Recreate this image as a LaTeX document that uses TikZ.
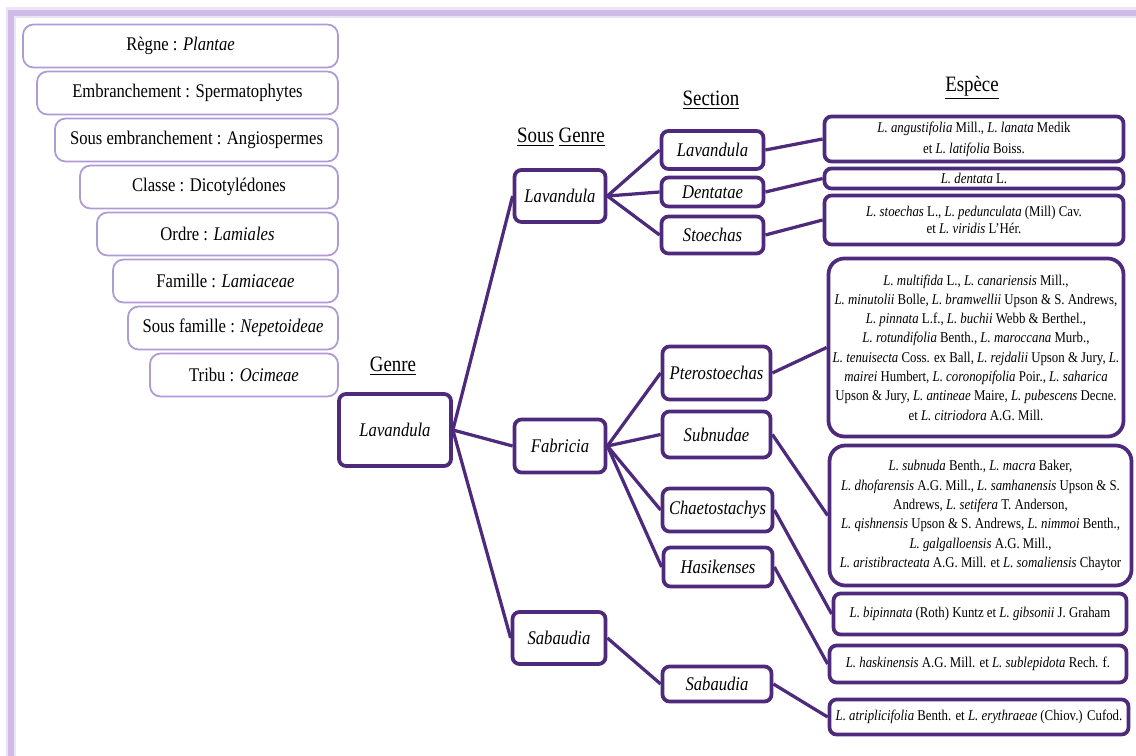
\documentclass[tikz,border=0pt]{standalone}
\usepackage{fontspec}
\setmainfont{Liberation Serif}[FakeStretch=0.86]
\definecolor{purp}{RGB}{78,42,124}
\definecolor{taxc}{RGB}{176,154,214}
\definecolor{framec}{RGB}{206,188,230}
\definecolor{glowc}{RGB}{236,228,246}
\tikzset{
 wh/.style 2 args={minimum width=#1*0.02cm, minimum height=#2*0.02cm},
 tax/.style={draw=taxc, line width=1pt, rounded corners=6pt, fill=white, inner sep=0pt, font=\fontsize{11}{13}\selectfont},
 mbox/.style={draw=purp, line width=0.075cm, rounded corners=4pt, fill=white, inner sep=0pt, align=center, font=\fontsize{11}{13}\selectfont\itshape},
 sbox/.style={draw=purp, line width=0.075cm, rounded corners=4pt, fill=white, inner sep=0pt, align=center, font=\fontsize{8.5}{11}\selectfont},
 conn/.style={draw=purp, line width=0.065cm},
 hdr/.style={font=\fontsize{12.5}{14}\selectfont, inner sep=0pt},
}
\begin{document}
\begin{tikzpicture}[x=0.02cm,y=-0.02cm]
\useasboundingbox (0,0) rectangle (1136,756);
% frame
\draw[line width=0.22cm, glowc] (11,760) -- (11,13) -- (1140,13);
\draw[line width=0.12cm, framec] (11,760) -- (11,13.5) -- (1140,13.5);
% taxonomy
\node[tax, wh={315}{43}] (t1) at (180.5,46) {Règne : \textit{Plantae}};
\node[tax, wh={301}{43}] (t2) at (187.5,93) {Embranchement : Spermatophytes};
\node[tax, wh={283}{43}] (t3) at (196.5,140) {Sous embranchement : Angiospermes};
\node[tax, wh={258}{43}] (t4) at (209,187) {Classe : Dicotylédones};
\node[tax, wh={241}{43}] (t5) at (217.5,234) {Ordre : \textit{Lamiales}};
\node[tax, wh={225}{43}] (t6) at (225.5,281) {Famille : \textit{Lamiaceae}};
\node[tax, wh={210}{43}] (t7) at (233,328) {Sous famille : \textit{Nepetoideae}};
\node[tax, wh={188}{43}] (t8) at (244,375) {Tribu : \textit{Ocimeae}};
% headers
\node[hdr] (hg) at (393,366) {\underline{Genre}};
\node[hdr] (hsg) at (561,137) {\underline{Sous} \underline{Genre}};
\node[hdr] (hs) at (711,100) {\underline{Section}};
\node[hdr] (he) at (972,88) {\underline{Espèce}};
% genre and sous genre
\node[mbox, wh={112}{72}] (genre) at (395,430) {Lavandula};
\node[mbox, wh={91}{52}] (sgL) at (560,196) {Lavandula};
\node[mbox, wh={91}{53}] (sgF) at (560,446) {Fabricia};
\node[mbox, wh={93}{52}] (sgS) at (559,638) {Sabaudia};
% sections
\node[mbox, wh={102}{38}] (sL) at (712.5,150) {Lavandula};
\node[mbox, wh={102}{29}] (sD) at (712.5,192) {Dentatae};
\node[mbox, wh={102}{37}] (sS) at (712.5,235) {Stoechas};
\node[mbox, wh={108}{53}] (sP) at (716.5,373) {Pterostoechas};
\node[mbox, wh={108}{46}] (sSu) at (716.5,434.5) {Subnudae};
\node[mbox, wh={110}{43}] (sC) at (717.5,510) {Chaetostachys};
\node[mbox, wh={109}{39}] (sH) at (718,567) {Hasikenses};
\node[mbox, wh={109}{35}] (sSa) at (717,684) {Sabaudia};
% species
\node[sbox, wh={299}{45}, font=\fontsize{8.5}{12}\selectfont] (e1) at (974,139) {\textit{L. angustifolia} Mill., \textit{L. lanata} Medik\\ et \textit{L. latifolia} Boiss.};
\node[sbox, wh={299}{20}] (e2) at (974,178.5) {\textit{L. dentata} L.};
\node[sbox, wh={299}{49}, font=\fontsize{8.5}{10}\selectfont] (e3) at (974,220) {\textit{L. stoechas} L., \textit{L. pedunculata} (Mill) Cav.\\ et \textit{L. viridis} L'Hér.};
\node[sbox, wh={295}{178}, rounded corners=9pt] (e4) at (976,347.5) {\textit{L. multifida} L., \textit{L. canariensis} Mill.,\\
\textit{L. minutolii} Bolle, \textit{L. bramwellii} Upson \& S. Andrews,\\
\textit{L. pinnata} L.f., \textit{L. buchii} Webb \& Berthel.,\\
\textit{L. rotundifolia} Benth., \textit{L. maroccana} Murb.,\\
\textit{L. tenuisecta} Coss. ex Ball, \textit{L. rejdalii} Upson \& Jury, \textit{L.}\\
\textit{mairei} Humbert, \textit{L. coronopifolia} Poir., \textit{L. saharica}\\
Upson \& Jury, \textit{L. antineae} Maire, \textit{L. pubescens} Decne.\\
et \textit{L. citriodora} A.G. Mill.};
\node[sbox, wh={302}{140}, rounded corners=9pt] (e5) at (980.5,515.5) {\textit{L. subnuda} Benth., \textit{L. macra} Baker,\\
\textit{L. dhofarensis} A.G. Mill., \textit{L. samhanensis} Upson \& S.\\
Andrews, \textit{L. setifera} T. Anderson,\\
\textit{L. qishnensis} Upson \& S. Andrews, \textit{L. nimmoi} Benth.,\\
\textit{L. galgalloensis} A.G. Mill.,\\
\textit{L. aristibracteata} A.G. Mill. et \textit{L. somaliensis} Chaytor};
\node[sbox, wh={293}{41}] (e6) at (980,614) {\textit{L. bipinnata} (Roth) Kuntz et \textit{L. gibsonii} J. Graham};
\node[sbox, wh={297}{37}] (e7) at (978,664) {\textit{L. haskinensis} A.G. Mill. et \textit{L. sublepidota} Rech. f.};
\node[sbox, wh={299}{35}] (e8) at (979,717) {\textit{L. atriplicifolia} Benth. et \textit{L. erythraeae} (Chiov.) Cufod.};
% connectors
\draw[conn] (genre.east) -- (sgL.west);
\draw[conn] (genre.east) -- (sgF.west);
\draw[conn] (genre.east) -- (sgS.west);
\draw[conn] (sgL.east) -- (sL.west);
\draw[conn] (sgL.east) -- (sD.west);
\draw[conn] (sgL.east) -- (sS.west);
\draw[conn] (sgF.east) -- (sP.west);
\draw[conn] (sgF.east) -- (sSu.west);
\draw[conn] (sgF.east) -- (sC.west);
\draw[conn] (sgF.east) -- (sH.west);
\draw[conn] (sgS.east) -- (sSa.west);
\draw[conn] (sL.east) -- (e1.west);
\draw[conn] (sD.east) -- (e2.west);
\draw[conn] (sS.east) -- (e3.west);
\draw[conn] (sP.east) -- (e4.west);
\draw[conn] (sSu.east) -- (e5.west);
\draw[conn] (sC.east) -- (e6.west);
\draw[conn] (sH.east) -- (e7.west);
\draw[conn] (sSa.east) -- (e8.west);
\end{tikzpicture}
\end{document}
